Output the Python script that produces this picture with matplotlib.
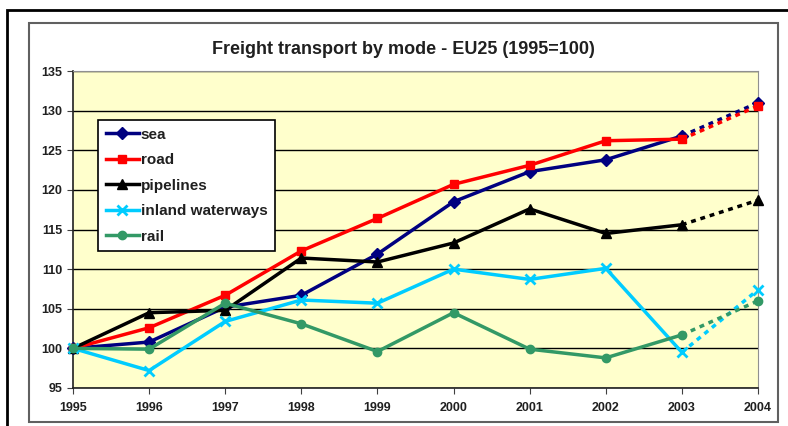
import matplotlib
matplotlib.use('Agg')
import matplotlib.pyplot as plt
from matplotlib.patches import Rectangle
from matplotlib.lines import Line2D

years = ['1995', '1996', '1997', '1998', '1999', '2000', '2001', '2002', '2003', '2004']
sea = [100, 100.8, 105.2, 106.7, 111.9, 118.5, 122.3, 123.8, 126.8, 131.0]
road = [100, 102.6, 106.7, 112.3, 116.4, 120.7, 123.1, 126.2, 126.4, 130.6]
pipelines = [100, 104.5, 104.8, 111.4, 110.9, 113.3, 117.6, 114.5, 115.6, 118.7]
inland = [100, 97.2, 103.4, 106.1, 105.7, 110.0, 108.7, 110.1, 99.5, 107.4]
rail = [100, 99.9, 105.7, 103.1, 99.6, 104.5, 99.9, 98.8, 101.7, 106.0]

series = [
    ('sea', sea, '#000080', 'D', 6),
    ('road', road, '#FF0000', 's', 6),
    ('pipelines', pipelines, '#000000', '^', 7),
    ('inland waterways', inland, '#00CCFF', 'x', 7),
    ('rail', rail, '#339966', 'o', 6),
]

plt.rcParams['font.family'] = ['Liberation Sans', 'DejaVu Sans']

W, H = 788, 426
fig = plt.figure(figsize=(W / 100, H / 100), dpi=100, facecolor='w')

# outer black frame and inner grey chart-area frame
fig.patches.append(Rectangle((7 / W, -0.1), 1.2, 1.1 - 10 / H, transform=fig.transFigure,
                             fill=False, edgecolor='black', lw=2, zorder=-10))
fig.patches.append(Rectangle((29 / W, 1 - 422 / H), (778 - 29) / W, (422 - 23) / H,
                             transform=fig.transFigure, facecolor='white',
                             edgecolor='#606060', lw=1.5, zorder=-10))

ax = fig.add_axes([73 / W, 1 - 388 / H, (758 - 73) / W, (388 - 71) / H])
ax.set_facecolor('#FFFFCC')
x = list(range(len(years)))

handles = []
for name, vals, col, mk, ms in series:
    mew = 2 if mk == 'x' else 1
    ax.plot(x[:-1], vals[:-1], color=col, lw=2.5, marker=mk, ms=ms, mew=mew, zorder=3,
            clip_on=False)
    ax.plot(x[-2:], vals[-2:], color=col, lw=2.5, ls=(0, (1.4, 1.4)), zorder=3)
    ax.plot(x[-1:], vals[-1:], color=col, marker=mk, ms=ms, mew=mew, ls='none', zorder=4,
            clip_on=False)
    handles.append(Line2D([], [], color=col, lw=2.5, marker=mk, ms=ms, mew=mew, label=name))

ax.set_xlim(0, 9)
ax.set_ylim(95, 135)
ax.set_xticks(x)
ax.set_xticklabels(years)
ax.set_yticks(range(95, 136, 5))
ax.yaxis.grid(True, color='black', lw=1)
ax.set_axisbelow(True)
ax.tick_params(axis='both', labelsize=9, direction='out', length=4, color='#404040')
ax.tick_params(axis='x', pad=6)
for lab in ax.get_xticklabels() + ax.get_yticklabels():
    lab.set_fontweight('bold')
    lab.set_color('#202020')
for side in ['top', 'right']:
    ax.spines[side].set_color('#909090')
for side in ['left', 'bottom']:
    ax.spines[side].set_color('#202020')
    ax.spines[side].set_linewidth(1.2)

leg = ax.legend(handles=handles, loc='upper left', bbox_to_anchor=(0.0365, 0.845),
                prop={'weight': 'bold', 'size': 11}, frameon=True, fancybox=False,
                edgecolor='black', framealpha=1, handlelength=2.2, labelspacing=0.75,
                borderpad=0.5, handletextpad=0.1, borderaxespad=0)
leg.get_frame().set_linewidth(1.2)
for t in leg.get_texts():
    t.set_color('#202020')

fig.text(403 / W, 1 - 49 / H, 'Freight transport by mode - EU25 (1995=100)',
         ha='center', va='center', fontsize=13, fontweight='bold', color='#202020')

fig.savefig('out.png', dpi=100)
